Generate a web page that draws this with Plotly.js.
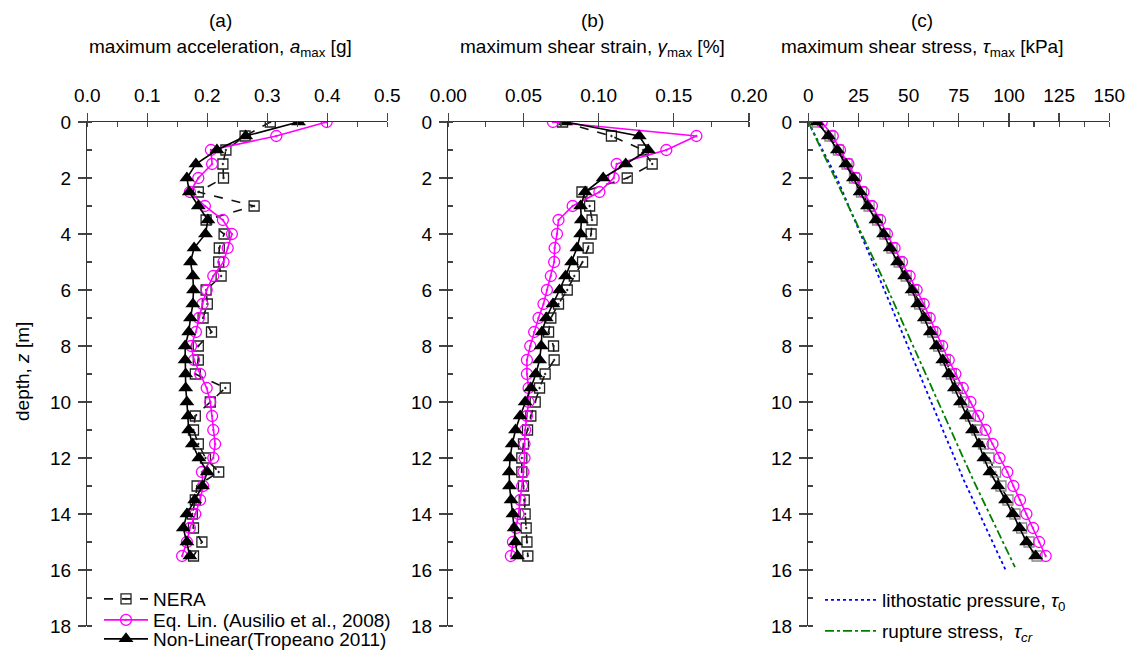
<!DOCTYPE html>
<html>
<head>
<meta charset="utf-8">
<script src="https://cdn.plot.ly/plotly-3.0.1.min.js"></script>
<style>html,body{margin:0;padding:0;background:#fff;}#chart{width:1129px;height:650px;}</style>
</head>
<body>
<div id="chart"></div>
<script>
// depth [m]
const depth = [0,0.5,1,1.5,2,2.5,3,3.5,4,4.5,5,5.5,6,6.5,7,7.5,8,8.5,9,9.5,10,10.5,11,11.5,12,12.5,13,13.5,14,14.5,15,15.5];

// (a) maximum acceleration [g]
const accNERA = [0.305,0.263,0.231,0.226,0.227,0.185,0.278,0.198,0.228,0.220,0.219,0.223,0.198,0.200,0.193,0.207,0.185,0.185,0.180,0.230,0.205,0.180,0.177,0.185,0.197,0.219,0.183,0.180,0.175,0.177,0.191,0.177];
const accEqLin = [0.399,0.315,0.206,0.208,0.185,0.171,0.196,0.226,0.241,0.234,0.227,0.210,0.199,0.192,0.186,0.181,0.173,0.178,0.188,0.199,0.205,0.208,0.210,0.213,0.210,0.191,0.193,0.188,0.180,0.171,0.166,0.158];
const accNonLin = [0.352,0.264,0.216,0.181,0.166,0.170,0.185,0.201,0.197,0.178,0.172,0.176,0.177,0.176,0.172,0.169,0.163,0.163,0.164,0.164,0.166,0.168,0.169,0.175,0.186,0.200,0.192,0.179,0.166,0.160,0.166,0.171];

// (b) maximum shear strain [%]
const strNERA = [0.076,0.1085,0.1296,0.1356,0.119,0.0889,0.094,0.0956,0.095,0.093,0.0893,0.0838,0.0791,0.0733,0.0682,0.0667,0.070,0.0704,0.0644,0.0607,0.0578,0.0549,0.0527,0.050,0.0489,0.0489,0.050,0.0505,0.0511,0.0518,0.0523,0.0529];
const strEqLin = [0.0696,0.165,0.145,0.112,0.110,0.1005,0.0827,0.0733,0.0723,0.0707,0.0704,0.0682,0.0656,0.0633,0.060,0.0571,0.0545,0.0523,0.0523,0.0534,0.0534,0.0523,0.0511,0.0507,0.0507,0.050,0.0491,0.0478,0.0467,0.0451,0.043,0.0416];
const strNonLin = [0.078,0.127,0.133,0.118,0.103,0.091,0.088,0.0885,0.088,0.0856,0.082,0.078,0.074,0.0696,0.0651,0.0623,0.0618,0.0607,0.0582,0.0549,0.0511,0.0478,0.0447,0.0425,0.0411,0.0405,0.0407,0.0418,0.043,0.0438,0.0447,0.046];

// (c) maximum shear stress [kPa]
const tauNERA = [4.5,10.8,15,19.3,23,26.5,30.3,34.5,38.2,41.7,45.3,48.8,52.5,55.5,58.8,62,65,68.3,71.3,74.3,77.5,80.8,84,87.3,90,93.3,96,99.5,103,106.3,110,114];
const tauEqLin = [6.7,12.2,15.8,20,23.8,27.5,31.7,35.8,39.2,43,46.7,50.5,54,57.5,60.5,63.3,66.7,70,73.3,77,80.8,84.7,88.3,91.8,95.3,99.2,102.2,105.5,108.7,112,115,118.3];
const tauNonLin = [4.2,10,14.5,18.7,22.5,25.8,29.5,33.7,37.5,40.8,44.5,48,51.7,54.5,57.8,60.8,63.8,67,70,72.8,75.8,78.8,81.8,85,87.5,90.5,94.5,98.3,102,105.3,108.8,113.3];

// lithostatic pressure and rupture stress lines
const lithoDepth = [0,2,5.64,12.79,16];
const lithoTau = [0,14.2,35.8,77.5,98.3];
const ruptDepth = [0,2,5.64,12.79,15.9];
const ruptTau = [0,13.3,37.5,82.2,103];

// tick labels / axis ranges
const xRanges = [[0,0.5],[0,0.2],[0,150]];
const xDticks = [0.1,0.05,25];
const xTickFormats = ['.1f','.2f','d'];
const depthRange = [18,0];

const FONT = 'Liberation Sans, Arial, sans-serif';
const FS = 19;
const W = 1129, H = 650;
const px = v => v / W;
const py = v => 1 - v / H;

const nameNERA = 'NERA';
const nameEqLin = 'Eq. Lin. (Ausilio et al., 2008)';
const nameNonLin = 'Non-Linear(Tropeano 2011)';

const sets = [
  [accNERA, accEqLin, accNonLin],
  [strNERA, strEqLin, strNonLin],
  [tauNERA, tauEqLin, tauNonLin]
];

const traces = [];
sets.forEach((s, i) => {
  const xa = i === 0 ? 'x' : 'x' + (i + 1);
  const ya = i === 0 ? 'y' : 'y' + (i + 1);
  const sqColor = i === 2 ? '#888888' : '#222222';
  traces.push({
    x: s[0], y: depth, xaxis: xa, yaxis: ya, type: 'scatter', mode: 'lines+markers',
    name: nameNERA, showlegend: i === 0, legend: 'legend',
    line: {color: '#111', width: 1.6, dash: 'dash'},
    marker: {symbol: 'square-open-dot', size: 10, color: sqColor, line: {width: 1.3, color: sqColor}}
  });
  traces.push({
    x: s[1], y: depth, xaxis: xa, yaxis: ya, type: 'scatter', mode: 'lines+markers',
    name: nameEqLin, showlegend: i === 0, legend: 'legend4',
    line: {color: '#FF00FF', width: 1.6},
    marker: {symbol: 'circle-open-dot', size: 11, color: '#FF00FF', line: {width: 1.3, color: '#FF00FF'}}
  });
  traces.push({
    x: s[2], y: depth, xaxis: xa, yaxis: ya, type: 'scatter', mode: 'lines+markers',
    name: nameNonLin, showlegend: i === 0, legend: 'legend5',
    line: {color: '#000', width: 1.6},
    marker: {symbol: 'triangle-up', size: 13, color: '#000'}
  });
});
traces.push({
  x: lithoTau, y: lithoDepth, xaxis: 'x3', yaxis: 'y3', type: 'scatter', mode: 'lines',
  name: 'lithostatic pressure, <i>τ</i><sub>0</sub>', legend: 'legend2',
  line: {color: '#0000FF', width: 1.8, dash: 'dot'}
});
traces.push({
  x: ruptTau, y: ruptDepth, xaxis: 'x3', yaxis: 'y3', type: 'scatter', mode: 'lines',
  name: 'rupture stress,  <i>τ<sub>cr</sub></i>', legend: 'legend3',
  line: {color: '#008000', width: 1.8, dash: 'dashdot'}
});

const xDomains = [[px(87.3), px(387.3)], [px(448.3), px(749)], [px(808.3), px(1109.3)]];
const yDomain = [py(626), py(122)];

function legendAt(x, y, w) {
  return {x: px(x), y: py(y), xanchor: 'left', yanchor: 'middle', itemwidth: w,
          bgcolor: 'rgba(0,0,0,0)', borderwidth: 0, font: {family: FONT, size: FS}};
}

const layout = {
  width: W, height: H,
  margin: {l: 0, r: 0, t: 0, b: 0, pad: 0, autoexpand: false},
  paper_bgcolor: '#fff', plot_bgcolor: 'rgba(0,0,0,0)',
  font: {family: FONT, size: FS, color: '#000'},
  showlegend: true,
  legend: legendAt(99, 599, 44),
  legend4: legendAt(99, 620, 44),
  legend5: legendAt(99, 639, 44),
  legend2: legendAt(820, 600, 52),
  legend3: legendAt(820, 631, 52),
  annotations: [],
};

for (let i = 0; i < 3; i++) {
  const n = i + 1;
  const xk = i === 0 ? 'xaxis' : 'xaxis' + n;
  const yk = i === 0 ? 'yaxis' : 'yaxis' + n;
  const yref = i === 0 ? 'y' : 'y' + n;
  const xref = i === 0 ? 'x' : 'x' + n;
  layout[xk] = {
    domain: xDomains[i], anchor: yref, side: 'top', range: xRanges[i], autorange: false,
    dtick: xDticks[i], tick0: 0, tickformat: xTickFormats[i],
    ticks: 'outside', ticklen: 8, tickwidth: 1.3, tickcolor: '#444',
    ticklabelstandoff: 3,
    minor: {dtick: xDticks[i] / 2, ticks: 'inside', ticklen: 5, tickwidth: 1.2, tickcolor: '#444', showgrid: false},
    showline: true, linecolor: '#333', linewidth: 1.4, showgrid: false, zeroline: false,
    tickfont: {family: FONT, size: FS, color: '#000'}, fixedrange: true
  };
  layout[yk] = {
    domain: yDomain, anchor: xref, range: depthRange, autorange: false,
    dtick: 2, tick0: 0, ticks: 'outside', ticklen: 8, tickwidth: 1.3, tickcolor: '#444',
    ticklabelstandoff: 3,
    minor: {dtick: 1, ticks: 'inside', ticklen: 5, tickwidth: 1.2, tickcolor: '#444', showgrid: false},
    showline: true, linecolor: '#333', linewidth: 1.4, showgrid: false, zeroline: false,
    tickfont: {family: FONT, size: FS, color: '#000'}, fixedrange: true
  };
  // overlay axes to draw the inner half of the crossing major ticks
  const ox = 'xaxis' + (n + 3), oy = 'yaxis' + (n + 3);
  layout[ox] = {
    overlaying: xref, anchor: yref, side: 'top', range: xRanges[i], autorange: false,
    dtick: xDticks[i], tick0: 0, ticks: 'inside', ticklen: 8, tickwidth: 1.3, tickcolor: '#444',
    showticklabels: false, showline: false, showgrid: false, zeroline: false, fixedrange: true
  };
  layout[oy] = {
    overlaying: yref, anchor: xref, side: 'left', range: depthRange, autorange: false,
    dtick: 2, tick0: 0, ticks: 'inside', ticklen: 8, tickwidth: 1.3, tickcolor: '#444',
    showticklabels: false, showline: false, showgrid: false, zeroline: false, fixedrange: true
  };
}

const titles = [
  ['(a)', 'maximum acceleration, <i>a</i><sub>max</sub> [g]', 220],
  ['(b)', 'maximum shear strain, <i>γ</i><sub>max</sub> [%]', 592],
  ['(c)', 'maximum shear stress, <i>τ</i><sub>max</sub> [kPa]', 922]
];
titles.forEach(t => {
  layout.annotations.push({text: t[0], xref: 'paper', yref: 'paper', x: px(t[2]), y: py(20),
    xanchor: 'center', yanchor: 'middle', showarrow: false, font: {family: FONT, size: FS}});
  layout.annotations.push({text: t[1], xref: 'paper', yref: 'paper', x: px(t[2]), y: py(48),
    xanchor: 'center', yanchor: 'middle', showarrow: false, font: {family: FONT, size: FS}});
});
layout.annotations.push({text: 'depth, <i>z</i> [m]', xref: 'paper', yref: 'paper', x: px(22), y: py(372),
  xanchor: 'center', yanchor: 'middle', textangle: -90, showarrow: false, font: {family: FONT, size: FS}});

Plotly.newPlot('chart', traces, layout, {displayModeBar: false, staticPlot: true});
</script>
</body>
</html>
